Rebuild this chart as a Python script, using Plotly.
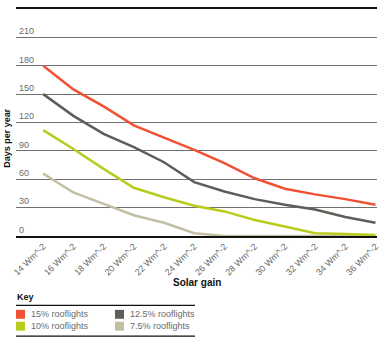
import plotly.graph_objects as go

categories = ["14 Wm^-2", "16 Wm^-2", "18 Wm^-2", "20 Wm^-2", "22 Wm^-2", "24 Wm^-2",
              "26 Wm^-2", "28 Wm^-2", "30 Wm^-2", "32 Wm^-2", "34 Wm^-2", "36 Wm^-2"]
roof_15 = [180, 155, 137, 117, 104, 91, 77, 61, 50, 44, 39, 33]
roof_125 = [150, 127, 108, 94, 78, 57, 47, 39, 33, 28, 20, 14]
roof_10 = [112, 92, 71, 51, 41, 32, 26, 17, 10, 3, 2, 1]
roof_75 = [66, 46, 34, 22, 14, 3, 0, 0, 0, 0, 0, 0]
series_names = ["15% rooflights", "12.5% rooflights", "10% rooflights", "7.5% rooflights"]
series_colors = ["#f05133", "#5e5e58", "#b8cc1e", "#c3bfa3"]
y_ticks = [0, 30, 60, 90, 120, 150, 180, 210]

FONT = "Liberation Sans, Arial, sans-serif"
W, H = 388, 344
ML, MR, MT, MB = 16, 11, 7, 108
plot_h = H - MT - MB

def py(px):
    return (H - MB - px) / plot_h

def pxx(px):
    return (px - ML) / (W - ML - MR)

fig = go.Figure()
# draw in back-to-front order so red is on top
for vals, name, col in reversed(list(zip([roof_15, roof_125, roof_10, roof_75], series_names, series_colors))):
    fig.add_trace(go.Scatter(x=list(range(len(categories))), y=vals, mode="lines", name=name,
                             line=dict(color=col, width=2.5), showlegend=False))

fig.update_layout(
    width=W, height=H,
    margin=dict(l=ML, r=MR, t=MT, b=MB),
    paper_bgcolor="white", plot_bgcolor="white",
    font=dict(family=FONT, size=9, color="#6a6a6a"),
    xaxis=dict(
        tickmode="array", tickvals=list(range(len(categories))), ticktext=categories,
        tickangle=-45, range=[-0.9, 11.05], showgrid=False, zeroline=False,
        showline=True, linecolor="#111111", linewidth=1.5, mirror=True,
        ticks="", tickfont=dict(size=9, color="#6a6a6a"),
    ),
    yaxis=dict(
        range=[0, 240], tickmode="array", tickvals=y_ticks,
        ticklabelposition="inside top", showgrid=True, gridcolor="#707070", gridwidth=1,
        zeroline=False, showline=False, ticks="",
        tickfont=dict(size=9, color="#6a6a6a"),
    ),
)

# axis titles
fig.add_annotation(text="<b>Solar gain</b>", xref="paper", yref="paper", x=pxx(197), y=py(283),
                   showarrow=False, font=dict(size=10, color="#111111"), xanchor="center", yanchor="middle")
fig.add_annotation(text="<b>Days per year</b>", xref="paper", yref="paper", x=pxx(7), y=py(137),
                   showarrow=False, textangle=-90, font=dict(size=9, color="#111111"),
                   xanchor="center", yanchor="middle")

# key
fig.add_annotation(text="<b>Key</b>", xref="paper", yref="paper", x=pxx(15), y=py(298),
                   showarrow=False, font=dict(size=9, color="#111111"), xanchor="left", yanchor="middle")
for yline in (306, 337):
    fig.add_shape(type="line", xref="paper", yref="paper", x0=pxx(16), x1=pxx(195),
                  y0=py(yline), y1=py(yline), line=dict(color="#111111", width=1.2))
positions = [(16, 315), (115, 315), (16, 327), (115, 327)]
for (sx, sy), name, col in zip(positions, series_names, series_colors):
    fig.add_shape(type="rect", xref="paper", yref="paper", x0=pxx(sx), x1=pxx(sx + 9),
                  y0=py(sy - 4.5), y1=py(sy + 4.5), fillcolor=col, line=dict(width=0))
    fig.add_annotation(text=name, xref="paper", yref="paper", x=pxx(sx + 13), y=py(sy),
                       showarrow=False, font=dict(size=9, color="#6a6a6a"),
                       xanchor="left", yanchor="middle")

fig.write_html("out.html")
